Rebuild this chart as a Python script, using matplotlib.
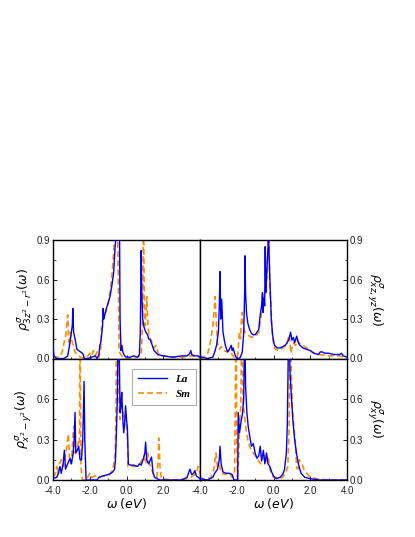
import numpy as np
import matplotlib
matplotlib.use('Agg')
import matplotlib.pyplot as plt
from matplotlib.ticker import MultipleLocator, FixedLocator

plt.rcParams['font.family'] = ['Liberation Sans', 'DejaVu Sans']
plt.rcParams['axes.unicode_minus'] = False
plt.rcParams['mathtext.fontset'] = 'dejavusans'

# --- data (omega in eV, DOS) ---
# top-left: 3z^2-r^2
w_tl_la = [-4.0, -3.95, -3.9, -3.8, -3.6, -3.4, -3.2, -3.1, -3.0, -2.95, -2.92, -2.88, -2.8, -2.7, -2.6, -2.5,
           -2.4, -2.35, -2.3, -2.1, -1.9, -1.7, -1.6, -1.5, -1.45, -1.4, -1.3, -1.27, -1.24, -1.2, -1.1, -1.0,
           -0.9, -0.8, -0.7, -0.62, -0.55, -0.5, -0.42, -0.38, -0.35, -0.3, -0.25, -0.2, -0.1, 0.0, 0.2, 0.4,
           0.6, 0.7, 0.75, 0.8, 0.83, 0.88, 0.95, 1.05, 1.15, 1.2, 1.3, 1.4, 1.5, 1.7, 2.0, 2.5, 3.0, 3.3,
           3.45, 3.5, 3.55, 3.7, 3.9, 4.0]
d_tl_la = [0.1, 0.02, 0.01, 0.0, 0.0, 0.0, 0.02, 0.1, 0.2, 0.25, 0.38, 0.2, 0.15, 0.07, 0.06, 0.05,
           0.04, 0.03, 0.0, 0.0, 0.01, 0.02, 0.0, 0.03, 0.1, 0.12, 0.25, 0.38, 0.3, 0.32, 0.38, 0.42,
           0.47, 0.55, 0.65, 0.85, 0.95, 1.1, 1.2, 1.0, 0.3, 0.06, 0.1, 0.05, 0.02, 0.01, 0.01, 0.02,
           0.01, 0.03, 0.2, 0.82, 0.5, 0.3, 0.24, 0.2, 0.18, 0.15, 0.14, 0.1, 0.06, 0.03, 0.02, 0.01, 0.02, 0.02,
           0.04, 0.06, 0.03, 0.02, 0.02, 0.01]
w_tl_sm = [-4.0, -3.8, -3.6, -3.5, -3.4, -3.3, -3.2, -3.15, -3.1, -3.05, -3.0, -2.9, -2.8, -2.7, -2.5, -2.2,
           -2.0, -1.9, -1.8, -1.7, -1.6, -1.5, -1.4, -1.35, -1.3, -1.2, -1.1, -1.0, -0.9, -0.8, -0.7, -0.6,
           -0.5, -0.45, -0.4, -0.3, -0.2, 0.0, 0.5, 0.8, 0.88, 0.92, 0.97, 1.02, 1.1, 1.15, 1.2, 1.3,
           1.4, 1.5, 1.6, 1.7, 1.8, 2.0, 2.5, 3.0, 3.5, 4.0]
d_tl_sm = [0.02, 0.01, 0.02, 0.05, 0.12, 0.18, 0.33, 0.15, 0.1, 0.2, 0.15, 0.1, 0.05, 0.03, 0.01, 0.0,
           0.04, 0.02, 0.06, 0.02, 0.05, 0.01, 0.08, 0.25, 0.3, 0.33, 0.36, 0.42, 0.5, 0.62, 0.8, 1.1,
           1.2, 0.6, 0.05, 0.03, 0.01, 0.0, 0.01, 0.02, 0.3, 1.2, 0.4, 0.25, 0.47, 0.3, 0.2, 0.15,
           0.12, 0.08, 0.1, 0.05, 0.02, 0.02, 0.01, 0.01, 0.02, 0.01]

# top-right: xz,yz
w_tr_la = [-4.0, -3.9, -3.6, -3.3, -3.2, -3.1, -3.0, -2.95, -2.91, -2.87, -2.82, -2.75, -2.65, -2.58, -2.5, -2.4,
           -2.3, -2.25, -2.2, -2.1, -2.0, -1.9, -1.8, -1.7, -1.62, -1.57, -1.55, -1.52, -1.47, -1.4, -1.3, -1.2,
           -1.1, -1.0, -0.9, -0.8, -0.75, -0.7, -0.65, -0.6, -0.57, -0.52, -0.48, -0.45, -0.42, -0.38, -0.35, -0.3,
           -0.27, -0.22, -0.18, -0.12, -0.05, 0.05, 0.2, 0.35, 0.5, 0.63, 0.75, 0.85, 0.93, 1.0, 1.08, 1.15,
           1.26, 1.35, 1.44, 1.6, 1.8, 2.0, 2.2, 2.44, 2.55, 2.65, 2.8, 3.0, 3.3, 3.6, 3.7, 3.8, 4.0]
d_tr_la = [0.02, 0.01, 0.0, 0.01, 0.05, 0.1, 0.2, 0.4, 0.66, 0.3, 0.45, 0.2, 0.12, 0.08, 0.05, 0.07,
           0.1, 0.06, 0.08, 0.03, 0.0, 0.0, 0.01, 0.05, 0.2, 0.5, 0.78, 0.5, 0.35, 0.27, 0.22, 0.19,
           0.18, 0.18, 0.2, 0.22, 0.3, 0.35, 0.4, 0.5, 0.35, 0.46, 0.4, 0.85, 0.5, 0.6, 0.7, 0.85,
           0.95, 0.7, 0.53, 0.3, 0.18, 0.1, 0.08, 0.08, 0.09, 0.1, 0.12, 0.15, 0.2, 0.14, 0.16, 0.12,
           0.17, 0.12, 0.1, 0.08, 0.07, 0.06, 0.04, 0.03, 0.05, 0.05, 0.04, 0.04, 0.03, 0.03, 0.04, 0.02, 0.01]
w_tr_sm = [-4.0, -3.8, -3.6, -3.5, -3.4, -3.3, -3.22, -3.18, -3.12, -3.05, -2.95, -2.85, -2.7, -2.5, -2.35, -2.25,
           -2.1, -1.95, -1.9, -1.85, -1.8, -1.75, -1.7, -1.65, -1.55, -1.4, -1.2, -1.0, -0.9, -0.8, -0.7, -0.6,
           -0.5, -0.42, -0.35, -0.3, -0.28, -0.24, -0.2, -0.15, -0.1, 0.0, 0.1, 0.3, 0.5, 0.7, 0.85, 0.9,
           0.95, 1.0, 1.1, 1.2, 1.3, 1.5, 1.7, 1.9, 2.2, 2.5, 3.0, 3.5, 4.0]
d_tr_sm = [0.0, 0.01, 0.03, 0.08, 0.15, 0.25, 0.38, 0.47, 0.3, 0.12, 0.07, 0.09, 0.06, 0.05, 0.06, 0.03,
           0.0, 0.02, 0.12, 0.2, 0.15, 0.28, 0.35, 0.25, 0.2, 0.18, 0.16, 0.17, 0.18, 0.2, 0.3, 0.4,
           0.5, 0.55, 0.65, 0.8, 1.1, 0.9, 0.5, 0.45, 0.25, 0.1, 0.07, 0.06, 0.08, 0.1, 0.18, 0.12,
           0.04, 0.08, 0.12, 0.1, 0.14, 0.1, 0.09, 0.07, 0.04, 0.03, 0.02, 0.02, 0.01]

# bottom-left: x^2-y^2
w_bl_la = [-4.0, -3.8, -3.7, -3.62, -3.55, -3.45, -3.38, -3.32, -3.2, -3.07, -3.0, -2.9, -2.85, -2.8, -2.76, -2.68,
           -2.6, -2.53, -2.45, -2.38, -2.31, -2.27, -2.2, -1.9, -1.6, -1.5, -1.3, -1.0, -0.85, -0.75, -0.65, -0.6,
           -0.55, -0.5, -0.45, -0.4, -0.35, -0.3, -0.26, -0.2, -0.15, -0.1, -0.05, 0.0, 0.05, 0.1, 0.2, 0.4,
           0.6, 0.7, 0.8, 0.9, 1.0, 1.04, 1.1, 1.2, 1.3, 1.36, 1.45, 1.53, 1.8, 2.5, 3.0, 3.3, 3.45, 3.55,
           3.65, 3.72, 3.8, 4.0]
d_bl_la = [0.01, 0.02, 0.05, 0.1, 0.05, 0.12, 0.22, 0.08, 0.12, 0.16, 0.12, 0.2, 0.3, 0.5, 0.2, 0.22,
           0.25, 0.15, 0.15, 0.3, 0.73, 0.3, 0.0, 0.0, 0.0, 0.02, 0.03, 0.04, 0.05, 0.06, 0.08, 0.15,
           0.35, 0.6, 1.2, 1.0, 0.5, 0.55, 0.65, 0.45, 0.35, 0.42, 0.55, 0.45, 0.38, 0.12, 0.11, 0.11,
           0.1, 0.12, 0.11, 0.15, 0.2, 0.28, 0.15, 0.12, 0.15, 0.17, 0.05, 0.02, 0.0, 0.0, 0.0, 0.02, 0.08, 0.04,
           0.05, 0.07, 0.03, 0.01]
w_bl_sm = [-4.0, -3.9, -3.8, -3.75, -3.65, -3.55, -3.45, -3.3, -3.2, -3.16, -3.1, -3.0, -2.9, -2.85, -2.8, -2.7,
           -2.6, -2.56, -2.53, -2.48, -2.4, -2.2, -2.0, -1.9, -1.7, -1.5, -1.2, -0.9, -0.75, -0.65, -0.6, -0.57,
           -0.55, -0.5, -0.45, -0.4, -0.35, -0.3, -0.2, -0.1, -0.05, 0.0, 0.05, 0.08, 0.2, 0.5, 0.7, 0.85,
           0.95, 1.05, 1.15, 1.25, 1.35, 1.5, 1.65, 1.72, 1.77, 1.82, 1.9, 2.5, 3.0, 3.5, 3.8, 3.9, 4.0]
d_bl_sm = [0.02, 0.04, 0.1, 0.05, 0.12, 0.15, 0.1, 0.2, 0.3, 0.34, 0.15, 0.12, 0.35, 0.4, 0.2, 0.22,
           0.3, 0.28, 1.2, 0.1, 0.0, 0.0, 0.05, 0.02, 0.03, 0.02, 0.03, 0.04, 0.08, 0.15, 0.25, 0.6,
           1.2, 1.1, 0.7, 0.55, 0.45, 0.6, 0.5, 0.45, 0.47, 0.4, 0.3, 0.1, 0.1, 0.1, 0.11, 0.15,
           0.18, 0.12, 0.2, 0.12, 0.08, 0.04, 0.02, 0.15, 0.31, 0.1, 0.01, 0.0, 0.0, 0.02, 0.05, 0.1, 0.05]

# bottom-right: xy
w_br_la = [-4.0, -3.6, -3.3, -3.2, -3.05, -2.95, -2.91, -2.85, -2.75, -2.6, -2.4, -2.25, -2.15, -1.95, -1.92, -1.85,
           -1.78, -1.7, -1.62, -1.57, -1.52, -1.45, -1.38, -1.3, -1.2, -1.1, -1.0, -0.9, -0.8, -0.72, -0.65, -0.55,
           -0.47, -0.38, -0.3, -0.2, -0.1, 0.0, 0.15, 0.35, 0.5, 0.6, 0.7, 0.75, 0.8, 0.83, 0.9, 0.98,
           1.05, 1.15, 1.25, 1.35, 1.5, 1.7, 2.0, 2.5, 4.0]
d_br_la = [0.01, 0.0, 0.02, 0.05, 0.08, 0.15, 0.25, 0.12, 0.06, 0.05, 0.05, 0.04, 0.0, 0.0, 0.5, 0.35,
           0.42, 0.48, 0.6, 1.2, 0.7, 0.5, 0.4, 0.33, 0.25, 0.27, 0.2, 0.16, 0.18, 0.25, 0.14, 0.22,
           0.12, 0.2, 0.12, 0.1, 0.06, 0.03, 0.01, 0.02, 0.04, 0.08, 0.2, 0.4, 0.9, 1.2, 0.8, 0.6,
           0.45, 0.3, 0.2, 0.12, 0.05, 0.02, 0.01, 0.0, 0.0]
w_br_sm = [-4.0, -3.7, -3.4, -3.25, -3.13, -3.05, -2.95, -2.85, -2.6, -2.4, -2.25, -2.12, -2.08, -2.04, -2.0, -1.96,
           -1.9, -1.85, -1.78, -1.72, -1.66, -1.6, -1.5, -1.4, -1.3, -1.2, -1.0, -0.85, -0.7, -0.6, -0.5, -0.4,
           -0.3, -0.2, -0.1, 0.0, 0.3, 0.5, 0.65, 0.78, 0.85, 0.9, 0.97, 1.03, 1.1, 1.18, 1.25, 1.32,
           1.4, 1.48, 1.55, 1.65, 1.8, 2.0, 2.3, 3.0, 4.0]
d_br_sm = [0.02, 0.0, 0.02, 0.08, 0.2, 0.1, 0.12, 0.05, 0.04, 0.05, 0.02, 0.05, 0.6, 1.2, 0.3, 0.0,
           0.15, 0.4, 0.55, 1.2, 0.6, 0.5, 0.38, 0.3, 0.25, 0.22, 0.18, 0.15, 0.12, 0.15, 0.18, 0.14,
           0.18, 0.08, 0.04, 0.02, 0.01, 0.02, 0.05, 0.1, 0.4, 1.2, 0.8, 0.55, 0.4, 0.3, 0.1, 0.08,
           0.15, 0.13, 0.12, 0.08, 0.05, 0.02, 0.01, 0.0, 0.0]

ylabels = [r'$\rho^{\sigma}_{3z^2-r^2}(\omega)$', r'$\rho^{\sigma}_{xz,yz}(\omega)$',
           r'$\rho^{\sigma}_{x^2-y^2}(\omega)$', r'$\rho^{\sigma}_{xy}(\omega)$']

panels = [(w_tl_la, d_tl_la, w_tl_sm, d_tl_sm),
          (w_tr_la, d_tr_la, w_tr_sm, d_tr_sm),
          (w_bl_la, d_bl_la, w_bl_sm, d_bl_sm),
          (w_br_la, d_br_la, w_br_sm, d_br_sm)]

W, H = 415, 537
fig = plt.figure(figsize=(W / 100, H / 100), dpi=100)

# panel boxes in pixels: x0, y_top, width, height
boxes = [(53, 240, 147, 118.5), (200, 240, 147, 118.5),
         (53, 358.5, 147, 121.5), (200, 358.5, 147, 121.5)]

blue = '#0000ff'
orange = '#ff8c00'

axes = []
for i, (x0, yt, bw, bh) in enumerate(boxes):
    ax = fig.add_axes([x0 / W, 1 - (yt + bh) / H, bw / W, bh / H])
    axes.append(ax)
    wl, dl, ws, ds = panels[i]
    ax.plot(wl, dl, color=blue, lw=1.0, label='La', zorder=3)
    ax.plot(ws, ds, color=orange, lw=1.2, ls=(0, (3.5, 2)), label='Sm', zorder=2)
    ax.set_xlim(-4, 4)
    ax.set_ylim(0, 0.9)
    ax.xaxis.set_major_locator(MultipleLocator(2.0))
    ax.xaxis.set_minor_locator(MultipleLocator(1.0))
    ax.yaxis.set_minor_locator(MultipleLocator(0.15))
    ax.tick_params(which='both', direction='in', labelsize=7, labelcolor='#222222', pad=2)
    ax.tick_params(axis='x', pad=4)
    ax.tick_params(which='major', length=3, width=0.6)
    ax.tick_params(which='minor', length=1.8, width=0.5)
    for s in ax.spines.values():
        s.set_linewidth(1.0)

    right = i % 2 == 1
    bottom = i >= 2
    if bottom:
        ax.yaxis.set_major_locator(FixedLocator([0.0, 0.3, 0.6]))
        ax.set_xlabel(r'$\omega$ $\mathit{(eV)}$', fontsize=9, labelpad=0)
        if right:
            ax.set_xticks([-4, -2, 0, 2, 4])
        else:
            ax.set_xticks([-4, -2, 0, 2])
        ax.xaxis.set_major_formatter(plt.FormatStrFormatter('%.1f'))
    else:
        ax.yaxis.set_major_locator(FixedLocator([0.0, 0.3, 0.6, 0.9]))
        ax.tick_params(labelbottom=False)
    ax.yaxis.set_major_formatter(plt.FormatStrFormatter('%.1f'))
    if right:
        ax.yaxis.tick_right()
        ax.yaxis.set_label_position('right')
        ax.set_ylabel(ylabels[i], fontsize=9, rotation=-90, labelpad=15)
    else:
        ax.set_ylabel(ylabels[i], fontsize=9, labelpad=2)

leg = axes[2].legend(loc='upper left', bbox_to_anchor=(0.5, 0.96), frameon=True,
                     fancybox=False, handlelength=2.6, borderpad=0.5, labelspacing=0.45,
                     prop={'family': 'Liberation Serif', 'style': 'italic', 'weight': 'bold', 'size': 8})
leg.get_frame().set_edgecolor('#999999')
leg.get_frame().set_linewidth(0.8)

fig.savefig('out.png', dpi=100)
